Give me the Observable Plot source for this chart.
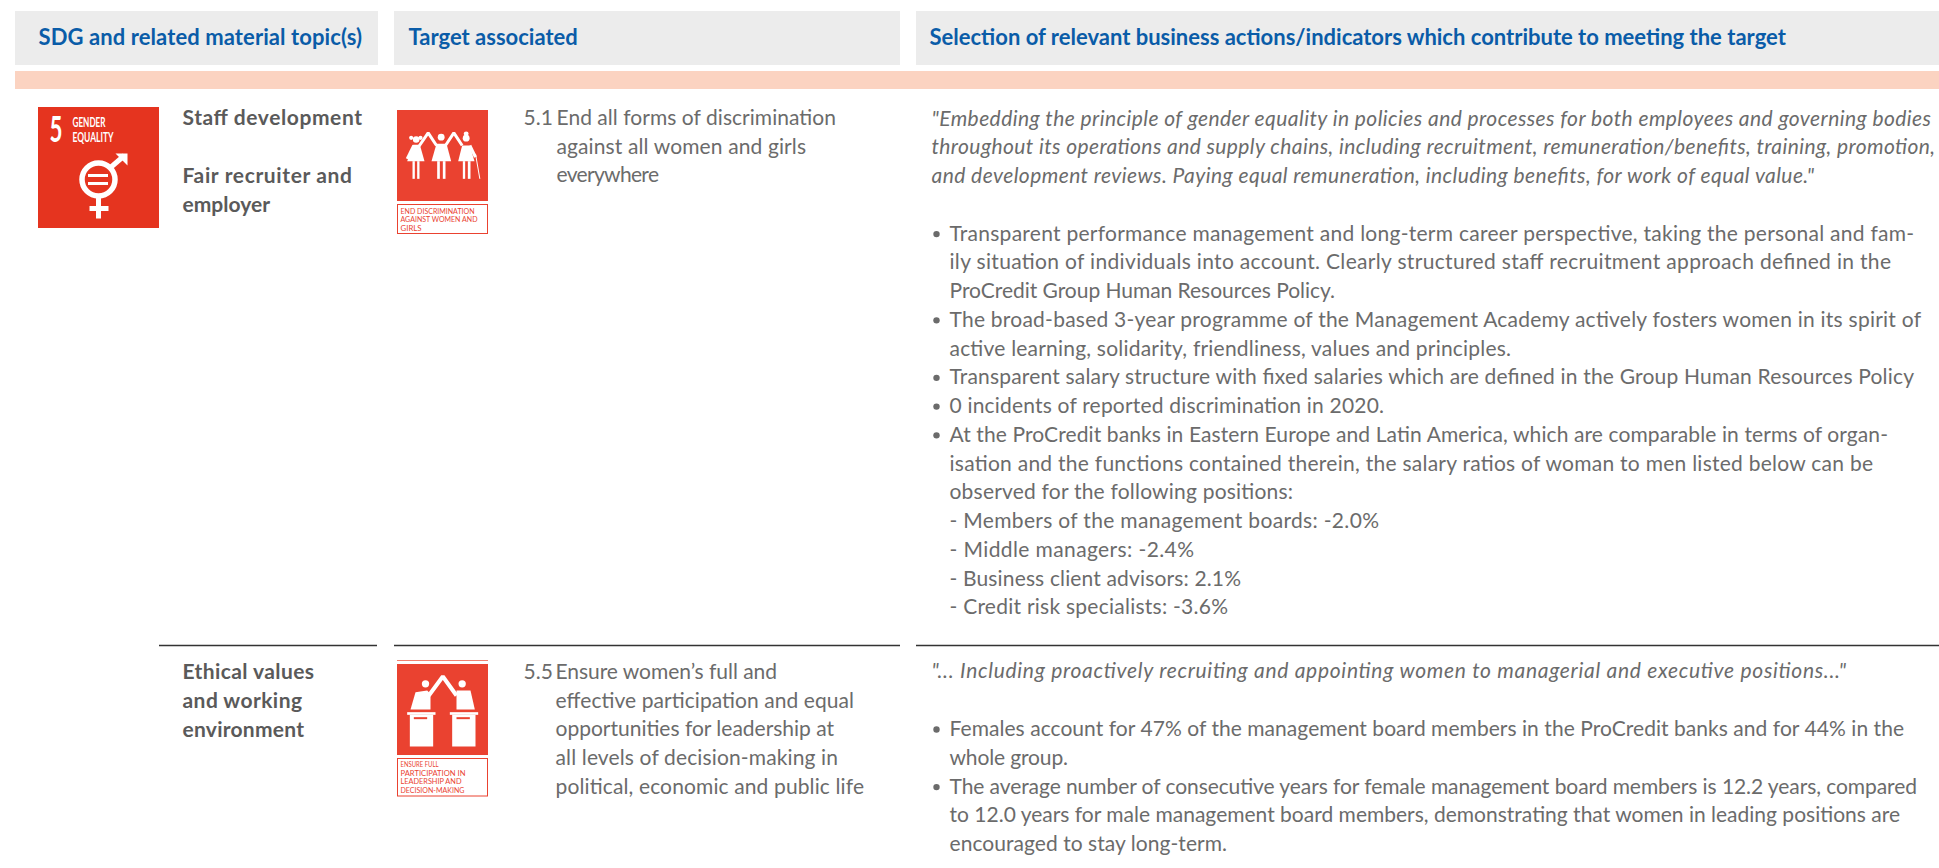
<!DOCTYPE html>
<html><head><meta charset="utf-8">
<script src="https://cdn.jsdelivr.net/npm/d3@7"></script>
<script src="https://cdn.jsdelivr.net/npm/@observablehq/plot@0.6"></script>
<style>html,body{margin:0;padding:0;background:#fff;overflow:hidden}svg{display:block}</style>
</head><body><div id="c"></div><script>
const headers = ["SDG and related material topic(s)","Target associated","Selection of relevant business actions/indicators which contribute to meeting the target"];
const topics1 = ["Staff development","","Fair recruiter and","employer"];
const topics2 = ["Ethical values","and working","environment"];
const target1Code = "5.1";
const target1 = ["End all forms of discrimination","against all women and girls","everywhere"];
const target2Code = "5.5";
const target2 = ["Ensure women’s full and","effective participation and equal","opportunities for leadership at","all levels of decision-making in","political, economic and public life"];
const quote1 = ["\"Embedding the principle of gender equality in policies and processes for both employees and governing bodies","throughout its operations and supply chains, including recruitment, remuneration/benefits, training, promotion,","and development reviews. Paying equal remuneration, including benefits, for work of equal value.\""];
const actions1 = ["• Transparent performance management and long-term career perspective, taking the personal and fam-","ily situation of individuals into account. Clearly structured staff recruitment approach defined in the","ProCredit Group Human Resources Policy.","• The broad-based 3-year programme of the Management Academy actively fosters women in its spirit of","active learning, solidarity, friendliness, values and principles.","• Transparent salary structure with fixed salaries which are defined in the Group Human Resources Policy","• 0 incidents of reported discrimination in 2020.","• At the ProCredit banks in Eastern Europe and Latin America, which are comparable in terms of organ-","isation and the functions contained therein, the salary ratios of woman to men listed below can be","observed for the following positions:","- Members of the management boards: -2.0%","- Middle managers: -2.4%","- Business client advisors: 2.1%","- Credit risk specialists: -3.6%"];
const quote2 = ["\"... Including proactively recruiting and appointing women to managerial and executive positions...\""];
const actions2 = ["• Females account for 47% of the management board members in the ProCredit banks and for 44% in the","whole group.","• The average number of consecutive years for female management board members is 12.2 years, compared","to 12.0 years for male management board members, demonstrating that women in leading positions are","encouraged to stay long-term."];
const iconLabel1 = ["END DISCRIMINATION","AGAINST WOMEN AND","GIRLS"];
const iconLabel2 = ["ENSURE FULL","PARTICIPATION IN","LEADERSHIP AND","DECISION-MAKING"];
const sdgNumber = "5", sdgName = ["GENDER","EQUALITY"];

const BODY="Lato", BLUE="#0a5ca8", GREY="#6b6b6b", DARK="#5a5a5a", RED="#ea4230", SDGRED="#e5341f", PEACH="#fbd3c1";
// fitted widths of the condensed icon lettering
const squeeze=new Map([["5",13],["GENDER",33],["EQUALITY",41],["END DISCRIMINATION",74],["AGAINST WOMEN AND",77],["GIRLS",21],["ENSURE FULL",38],["PARTICIPATION IN",65],["LEADERSHIP AND",61],["DECISION-MAKING",64]]);
// right-hand ends of the running text lines
const ends=new Map([
 [actions1[0].slice(2),1914],[actions1[1],1891],[actions1[2],1335],[actions1[3].slice(2),1921],[actions1[4],1511],[actions1[5].slice(2),1914],[actions1[6].slice(2),1384],
 [actions1[7].slice(2),1888],[actions1[8],1873],[actions1[9],1293],[actions1[10],1379],[actions1[11],1194],[actions1[12],1241],[actions1[13],1228],
 [actions2[0].slice(2),1904],[actions2[1],1068],[actions2[2].slice(2),1917],[actions2[3],1900],[actions2[4],1227],
 [quote1[0],1931],[quote1[1],1935],[quote1[2],1814],[quote2[0],1846],
 [target1[0],836],[target1[1],806],[target1[2],659],
 [target2[0],777],[target2[1],854],[target2[2],834],[target2[3],838],[target2[4],864],
 [topics1[0],362],[topics1[2],352],[topics1[3],270],[topics2[0],314],[topics2[1],302],[topics2[2],304],[headers[0],362]]);
const lines=(arr,x,y0,step)=>arr.map((t,i)=>({t,x,y:y0+i*step}));
const bulletText=(arr,x,y0,step)=>arr.map((t,i)=>({t:t.replace(/^• /,""),x,y:y0+i*step}));
const bulletDots=(arr,x,y0,step)=>arr.flatMap((t,i)=>t.startsWith("• ")?[{x,y:y0+i*step+0.3}]:[]);
const txt=(d,o)=>Plot.text(d,{x:"x",y:"y",text:"t",textAnchor:"start",lineAnchor:"middle",fontFamily:BODY,fontWeight:400,fill:GREY,fontSize:21,...o});
const rect=(x1,y1,x2,y2,fill,extra={})=>Plot.rect([0],{x1:()=>x1,y1:()=>y1,x2:()=>x2,y2:()=>y2,fill,...extra});
const flat=(shapes,ox,oy,k)=>shapes.flatMap((s,z)=>s.map(([a,b])=>({x:ox+a*k,y:oy+b*k,z})));
const poly=(shapes,ox,oy,k,fill)=>Plot.line(flat(shapes,ox,oy,k),{x:"x",y:"y",z:"z",fill,stroke:"none",curve:"linear"});
const segs=(shapes,ox,oy,k,stroke,w)=>Plot.line(flat(shapes,ox,oy,k),{x:"x",y:"y",z:"z",stroke,strokeWidth:w,fill:"none",curve:"linear",strokeLinecap:"butt",strokeLinejoin:"miter"});
const circ=(pts,ox,oy,k,fill)=>Plot.dot(pts,{x:d=>ox+d[0]*k,y:d=>oy+d[1]*k,r:d=>d[2]*k,fill,stroke:"none"});
const box=(a,b,c,d)=>[[a,b],[c,b],[c,d],[a,d]];
const K=1/3, OX=380, OY1=90, OY2=640;
const fig1Fill=[[[98,163],[118,163],[132,212],[80,212]],[[168,160],[198,160],[212,212],[153,212]],[[245,165],[268,165],[282,212],[233,212]],
 box(96,212,103,265),box(110,212,117,265),box(170,212,178,265),box(187,212,195,265),box(247,212,254,265),box(262,212,270,265)];
const fig1Arm=[[[100,165],[80,205]],[[115,168],[143,127],[168,165]],[[195,165],[220,127],[245,165]],[[268,165],[285,200]]];
const fig2Fill=[[[90,207],[105,155],[140,150],[150,160],[150,207]],[[228,150],[270,150],[283,207],[228,207]],
 box(80,215,165,223),box(88,223,158,318),box(208,215,293,223),box(215,223,285,318)];
const fig2Arm=[[[145,165],[187,108],[228,165]]];
const fig2Slit=[box(100,230,140,236),box(228,230,268,236)];
const rule=(y,x1,x2,stroke,w)=>Plot.ruleY([0],{y:()=>y,x1:()=>x1,x2:()=>x2,stroke,strokeWidth:w});
const BX=936, TX=949, QX=931;

const plot=Plot.plot({width:1939,height:868,margin:0,x:{type:"identity",axis:null},y:{type:"identity",axis:null},style:{background:"#fff"},
 marks:[
  rect(15,11,378,65,"#ececec"),rect(394,11,900,65,"#ececec"),rect(916,11,1939,65,"#ececec"),
  rect(15,71,1939,89,PEACH),
  txt([{t:headers[0],x:38,y:37},{t:headers[1],x:408,y:37},{t:headers[2],x:929,y:37}],{fill:BLUE,fontWeight:700,fontSize:22}),
  rect(38,107,159,228,SDGRED),
  txt([{t:sdgNumber,x:49,y:130}],{fill:"#fff",fontWeight:700,fontSize:36}),
  txt(lines(sdgName,72,122.5,14.5),{fill:"#fff",fontWeight:700,fontSize:14}),
  Plot.dot([0],{x:()=>98,y:()=>179,r:16.5,stroke:"#fff",strokeWidth:5.5,fill:"none"}),
  segs([[[110,167],[124,155]],[[98,196],[98,218]],[[89,208],[108,208]]],0,0,1,"#fff",5),
  poly([[[115,153],[127,153],[127,165]]],0,0,1,"#fff"),
  rect(88,174,108,177,"#fff"),rect(88,182,108,185,"#fff"),
  rect(397,110,488,201,RED),
  circ([[107,147,13],[182,140,14],[257,143,14],[257,130,7],[92,142,5],[120,142,5]],OX,OY1,K,"#fff"),
  poly(fig1Fill,OX,OY1,K,"#fff"),
  segs(fig1Arm,OX,OY1,K,"#fff",3),
  segs([[[285,190],[298,265]]],OX,OY1,K,"#fff",1),
  Plot.rect([0],{x1:()=>397.5,y1:()=>204.5,x2:()=>487.5,y2:()=>233.5,fill:"none",stroke:RED,strokeWidth:1}),
  txt(lines(iconLabel1,400,210.7,8.5),{fill:RED,fontSize:7.5}),
  txt(lines(topics1,182,117.5,29.2),{fill:DARK,fontWeight:700,fontSize:21}),
  txt(lines([target1Code],523,117.5,28.8)),
  txt(lines(target1,556,117.5,28.8)),
  txt(lines(quote1,QX,118.5,28.6),{fontStyle:"italic"}),
  txt(bulletText(actions1,TX,233.3,28.75)),
  Plot.dot(bulletDots(actions1,BX,233.3,28.75),{x:"x",y:"y",r:3.2,fill:GREY}),
  rule(645,159,377,"#333",1.5),rule(645,394,900,"#333",1.5),rule(645,916,1939,"#333",1.5),
  txt(lines(topics2,182,671.5,29),{fill:DARK,fontWeight:700,fontSize:21}),
  rule(660,397,488,"#f08070",1),
  rect(397,664,488,755,RED),
  circ([[135,130,16],[245,130,16]],OX,OY2,K,"#fff"),
  poly(fig2Fill,OX,OY2,K,"#fff"),
  segs(fig2Arm,OX,OY2,K,"#fff",4),
  poly(fig2Slit,OX,OY2,K,RED),
  Plot.rect([0],{x1:()=>397.5,y1:()=>758.5,x2:()=>487.5,y2:()=>796,fill:"none",stroke:RED,strokeWidth:1}),
  txt(lines(iconLabel2,400,764,8.7),{fill:RED,fontSize:7.5}),
  txt(lines([target2Code],523,671.5,28.8)),
  txt(lines(target2,555,671.5,28.8)),
  txt(lines(quote2,QX,671,29),{fontStyle:"italic"}),
  txt(bulletText(actions2,TX,728.7,28.8)),
  Plot.dot(bulletDots(actions2,BX,728.7,28.8),{x:"x",y:"y",r:3.2,fill:GREY})
 ]});
document.getElementById("c").append(plot);
d3.select(plot).selectAll("text").each(function(){
  const s=this.textContent, w=squeeze.get(s), e=ends.get(s);
  if(w){this.setAttribute("textLength",w);this.setAttribute("lengthAdjust","spacingAndGlyphs");}
  else if(e){const left=this.getBoundingClientRect().left;this.setAttribute("textLength",e-left);this.setAttribute("lengthAdjust","spacing");}
});
</script></body></html>
